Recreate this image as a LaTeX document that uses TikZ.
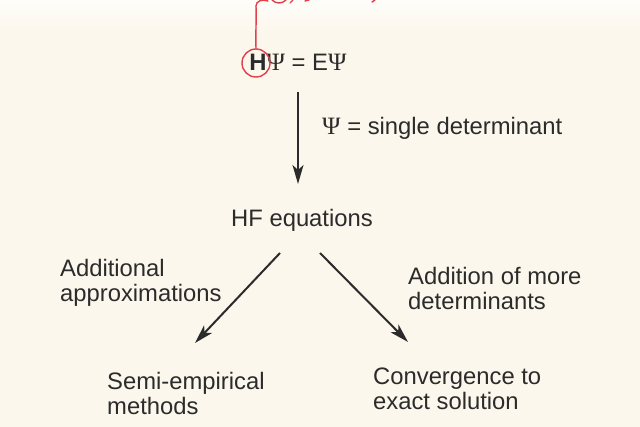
\documentclass[tikz,border=0pt]{standalone}
\usepackage{fontspec}
\setmainfont{Liberation Sans}
\newfontfamily\psifont{Liberation Serif}
\usetikzlibrary{arrows.meta}
\definecolor{paper}{HTML}{FCF7EC}
\definecolor{paperhi}{HTML}{FEFDF9}
\definecolor{ink}{HTML}{2B2B2B}
\definecolor{pen}{HTML}{E0404A}
\newcommand{\Psy}{{\psifont\fontsize{25}{25}\selectfont Ψ}}
\tikzset{
  txt/.style={font=\fontsize{23.8}{25}\selectfont, text=ink, inner sep=0pt, align=left},
  arr/.style={draw=ink, line width=2pt, -{Stealth[length=19pt,width=11pt,inset=5pt]}},
  redpen/.style={draw=pen, line width=1.4pt, line cap=round},
}
\begin{document}
\begin{tikzpicture}[x=1pt,y=-1pt]
\fill[paper] (0,0) rectangle (640,427);
\shade[top color=paperhi, bottom color=paper] (0,0) rectangle (640,34);
\useasboundingbox (0,0) rectangle (640,427);

\node[txt, anchor=center] (eq) at (298,62) {\textbf{H}\Psy\ = E\Psy};
\node[txt, anchor=center] (hf) at (302,220) {HF equations};
\node[txt, anchor=west] (sd) at (322,128) {\Psy\ = single determinant};
\node[txt, anchor=west] (aa) at (60,283) {Additional\\approximations};
\node[txt, anchor=west] (am) at (408,288) {Addition of more\\determinants};
\node[txt, anchor=west] (se) at (107,393) {Semi-empirical\\methods};
\node[txt, anchor=west] (cv) at (373,389) {Convergence to\\exact solution};

\coordinate (v1) at (298,92);
\coordinate (v2) at (298,184);
\coordinate (l1) at (280,253);
\coordinate (l2) at (195,343);
\coordinate (r1) at (320,253);
\coordinate (r2) at (408,342);
\draw[arr] (v1) -- (v2);
\draw[arr] (l1) -- (l2);
\draw[arr] (r1) -- (r2);

% red annotation
\node[redpen, circle, minimum size=28pt, inner sep=0pt] (circ) at (256,63) {};
\coordinate (up) at (256,6);
\draw[redpen] (circ.north) to[out=92,in=-88] (up);
\draw[redpen] (up) .. controls (256,1) and (262,-1) .. (268,1);
\draw[redpen] (272,0) .. controls (276,4) and (282,4) .. (286,0);
\draw[redpen] (290,3) -- (293,0);
\draw[redpen] (305,1) -- (309,0);
\draw[redpen] (372,2) -- (375,0);
\end{tikzpicture}
\end{document}
